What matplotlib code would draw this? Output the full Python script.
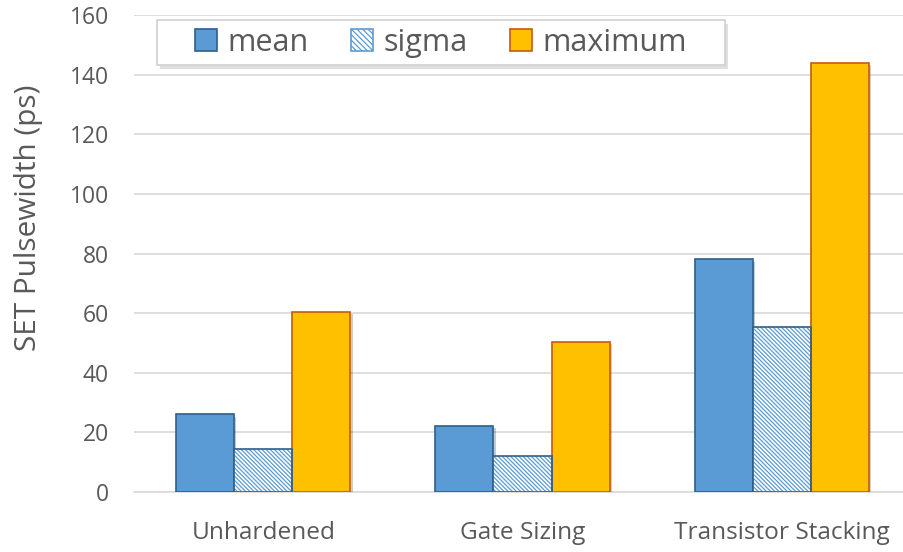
import numpy as np
import matplotlib
matplotlib.use('Agg')
from matplotlib import pyplot as plt
from matplotlib.patches import Patch, Rectangle
import matplotlib.patheffects as pe

categories = ['Unhardened', 'Gate Sizing', 'Transistor Stacking']
mean = [26, 22, 78]
sigma = [14.5, 12.2, 55.5]
maximum = [60.5, 50.3, 143.8]
yticks = [0, 20, 40, 60, 80, 100, 120, 140, 160]

plt.rcParams['font.family'] = ['Open Sans', 'DejaVu Sans']
plt.rcParams['hatch.linewidth'] = 0.9
text_color = '#595959'
hatch = '\\' * 8

fig = plt.figure(figsize=(9.04, 5.52), dpi=100)
ax = fig.add_axes([0.148, 0.1087, 0.86, 0.8641])

x = np.arange(len(categories))
w = 0.224
shadow = [pe.SimplePatchShadow(offset=(1.5, -1.5), alpha=0.25), pe.Normal()]

# mean
ax.bar(x - w, mean, w, color='#5b9bd5', edgecolor='#2e5f8a', linewidth=1.2,
       zorder=3, path_effects=shadow)
# sigma: hatch in light blue, outline in dark blue
ax.bar(x, sigma, w, color='white', edgecolor='#5b9bd5', hatch=hatch,
       linewidth=0, zorder=3, path_effects=shadow)
ax.bar(x, sigma, w, fill=False, edgecolor='#2e5f8a', linewidth=1.2, zorder=4)
# maximum
ax.bar(x + w, maximum, w, color='#ffc000', edgecolor='#c55a11', linewidth=1.2,
       zorder=3, path_effects=shadow)

ax.set_xlim(-0.5, 2.5)
ax.set_ylim(0, 160)
ax.set_yticks(yticks)
ax.set_xticks(x)
ax.set_xticklabels(categories, fontsize=17.6, color=text_color)
ax.tick_params(axis='y', labelsize=16.5, colors=text_color, length=0, pad=18)
ax.tick_params(axis='x', length=0, pad=21)
ax.grid(axis='y', color='#d9d9d9', linewidth=1.2, zorder=0)
ax.set_axisbelow(True)
for s in ['top', 'right', 'left']:
    ax.spines[s].set_visible(False)
ax.spines['bottom'].set_color('#d9d9d9')
ax.spines['bottom'].set_linewidth(1.2)
ylab = ax.set_ylabel('SET Pulsewidth (ps)', fontsize=18.7, color=text_color)
ax.yaxis.set_label_coords(-0.117, 0.574)

# fit the y label to the length it has in the original (~267 px)
fig.canvas.draw()
h = ylab.get_window_extent().height
ylab.set_fontsize(18.7 * 267 / h)

# legend box drawn by hand (wide side padding, shadow)
box = Rectangle((0.0296, 0.895), 0.7306, 0.0945, transform=ax.transAxes,
                facecolor='white', edgecolor='#d0d0d0', linewidth=1.2, zorder=5,
                clip_on=False,
                path_effects=[pe.SimplePatchShadow(offset=(2, -3), alpha=0.25,
                                                   shadow_rgbFace='#808080'), pe.Normal()])
ax.add_patch(box)

handles = [
    Patch(facecolor='#5b9bd5', edgecolor='#2e5f8a', linewidth=1.2, label='mean'),
    Patch(facecolor='white', edgecolor='#5b9bd5', hatch='\\' * 6, linewidth=1.2, label='sigma'),
    Patch(facecolor='#ffc000', edgecolor='#c55a11', linewidth=1.2, label='maximum'),
]
leg = ax.legend(handles=handles, ncol=3, loc='center',
                bbox_to_anchor=(0.0296 + 0.7306 / 2, 0.895 + 0.0945 / 2),
                fontsize=22, frameon=False, handlelength=0.72, handleheight=0.72,
                handletextpad=0.33, columnspacing=1.4, borderpad=0)
leg.set_zorder(6)
for t in leg.get_texts():
    t.set_color(text_color)

plt.savefig('out.png', dpi=100)
